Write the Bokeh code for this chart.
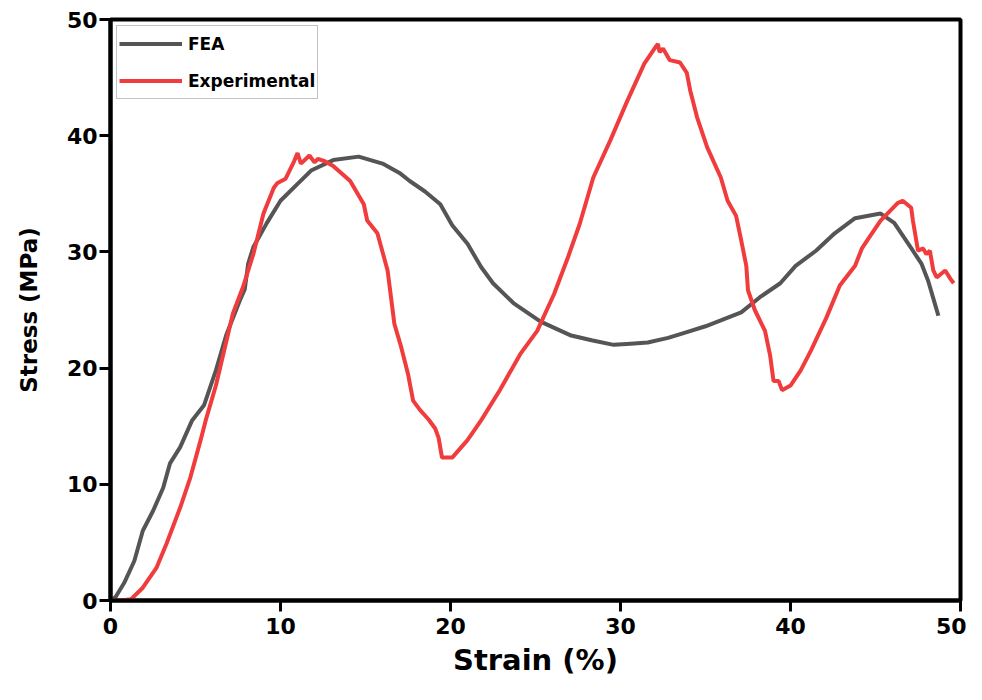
from bokeh.plotting import figure
from bokeh.models import Range1d, Legend, LegendItem, FixedTicker
from bokeh.embed import file_html
from bokeh.resources import INLINE

# FEA curve
fea_strain = [0, 0.3, 0.8, 1.4, 1.9, 2.5, 3.1, 3.5, 4.1, 4.8, 5.5, 6.2, 6.8, 7.6, 7.9, 8.1,
              8.4, 9.2, 10.0, 10.9, 11.8, 13.1, 14.6, 16.0, 17.0, 17.6, 18.5, 19.4, 20.1,
              21.0, 21.8, 22.5, 23.7, 25.3, 27.1, 28.3, 29.6, 30.6, 31.6, 32.8, 33.9, 35.0,
              35.9, 37.1, 38.2, 39.4, 40.3, 41.5, 42.6, 43.8, 45.3, 46.1, 47.2, 47.7, 48.1,
              48.4, 48.7]
fea_stress = [0, 0.3, 1.5, 3.4, 6.0, 7.7, 9.7, 11.8, 13.2, 15.5, 16.8, 19.8, 22.8, 25.8, 26.8,
              29.0, 30.4, 32.5, 34.4, 35.7, 37.0, 37.9, 38.2, 37.6, 36.8, 36.1, 35.2, 34.1,
              32.3, 30.7, 28.7, 27.3, 25.6, 24.0, 22.8, 22.4, 22.0, 22.1, 22.2, 22.6, 23.1,
              23.6, 24.1, 24.8, 26.1, 27.3, 28.8, 30.1, 31.6, 32.9, 33.3, 32.5, 30.1, 29.0,
              27.5, 26.0, 24.5]

# Experimental curve
exp_strain = [0, 0.6, 1.2, 1.9, 2.7, 3.3, 4.1, 4.7, 5.3, 5.6, 6.2, 7.2, 7.8, 8.4, 9.0, 9.6,
              9.8, 10.3, 10.8, 11.0, 11.2, 11.7, 12.0, 12.2, 12.6, 13.1, 14.1, 14.9, 15.1,
              15.7, 16.3, 16.5, 16.7, 17.1, 17.5, 17.8, 18.2, 18.7, 19.1, 19.3, 19.5, 19.8,
              20.1, 21.0, 21.8, 22.9, 24.1, 25.1, 26.1, 26.9, 27.6, 28.4, 29.4, 30.4, 31.4,
              32.0, 32.2, 32.3, 32.5, 32.9, 33.5, 33.9, 34.1, 34.5, 35.1, 35.9, 36.3, 36.8,
              37.1, 37.4, 37.5, 37.9, 38.5, 38.8, 39.0, 39.3, 39.5, 40.0, 40.6, 41.2, 42.1,
              42.9, 43.8, 44.2, 44.7, 45.3, 45.7, 46.3, 46.6, 47.1, 47.2, 47.5, 47.8, 48.0,
              48.2, 48.4, 48.6, 49.1, 49.4, 49.6]
exp_stress = [0, 0, 0.1, 1.1, 2.8, 4.9, 8.0, 10.6, 13.8, 15.5, 18.5, 24.7, 27.0, 29.8, 33.3,
              35.5, 35.9, 36.3, 37.8, 38.5, 37.6, 38.3, 37.7, 38.0, 37.8, 37.4, 36.1, 34.1,
              32.7, 31.6, 28.4, 26.1, 23.8, 21.8, 19.5, 17.2, 16.4, 15.6, 14.8, 14.0, 12.3,
              12.3, 12.3, 13.8, 15.5, 18.1, 21.2, 23.2, 26.4, 29.5, 32.4, 36.4, 39.6, 43.0,
              46.2, 47.5, 47.9, 47.2, 47.5, 46.5, 46.3, 45.4, 43.9, 41.6, 39.0, 36.4, 34.4,
              33.1, 31.0, 28.8, 26.7, 25.0, 23.2, 21.1, 18.9, 18.9, 18.1, 18.5, 19.8, 21.5,
              24.3, 27.1, 28.8, 30.3, 31.4, 32.7, 33.3, 34.2, 34.4, 33.8, 32.7, 30.1, 30.3,
              29.8, 30.1, 28.4, 27.8, 28.4, 27.7, 27.3]

x_ticks = [0, 10, 20, 30, 40, 50]
y_ticks = [0, 10, 20, 30, 40, 50]
series_names = ["FEA", "Experimental"]

FONT = "DejaVu Sans"

p = figure(width=966, height=684, output_backend="svg", toolbar_location=None,
           x_range=Range1d(0, 50), y_range=Range1d(0, 50),
           min_border_left=110, min_border_right=6, min_border_top=19, min_border_bottom=84)

p.grid.visible = False
p.background_fill_color = "white"
p.border_fill_color = "white"
p.outline_line_color = "black"
p.outline_line_width = 4

r1 = p.line(fea_strain, fea_stress, line_color="#555555", line_width=4)
r2 = p.line(exp_strain, exp_stress, line_color="#f03c3c", line_width=4)

for ax, ticks in ((p.xaxis, x_ticks), (p.yaxis, y_ticks)):
    ax.ticker = FixedTicker(ticks=ticks)
    ax.axis_line_width = 4
    ax.axis_line_color = "black"
    ax.major_tick_line_width = 3
    ax.major_tick_line_color = "black"
    ax.major_tick_out = 11
    ax.major_tick_in = 0
    ax.minor_tick_line_color = None
    ax.major_label_text_font = FONT
    ax.major_label_text_font_style = "bold"
    ax.major_label_text_font_size = "22px"
    ax.major_label_text_color = "black"
    ax.axis_label_text_font = FONT
    ax.axis_label_text_font_style = "bold"
    ax.axis_label_text_color = "black"

p.xaxis.axis_label = "Strain (%)"
p.yaxis.axis_label = "Stress (MPa)"
p.xaxis.axis_label_text_font_size = "29px"
p.yaxis.axis_label_text_font_size = "23px"
p.xaxis.major_label_standoff = 6
p.yaxis.major_label_standoff = 2
p.xaxis.axis_label_standoff = 6
p.yaxis.axis_label_standoff = 22

legend = Legend(items=[LegendItem(label=series_names[0], renderers=[r1]),
                       LegendItem(label=series_names[1], renderers=[r2])],
                location="top_left")
legend.margin = 6
legend.padding = 2
legend.spacing = 6
legend.glyph_width = 63
legend.glyph_height = 31
legend.label_height = 31
legend.label_standoff = 6
legend.label_text_font = FONT
legend.label_text_font_style = "bold"
legend.label_text_font_size = "17px"
legend.label_text_color = "black"
legend.border_line_color = "#888888"
legend.border_line_width = 1
legend.background_fill_alpha = 1
p.add_layout(legend)

open("out.html", "w").write(file_html(p, INLINE))
